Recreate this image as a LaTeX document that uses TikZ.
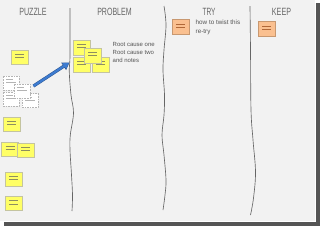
\documentclass[tikz,border=0pt]{standalone}
\usepackage{fontspec}
\setmainfont{Liberation Sans}
\usepackage{graphicx}
\usetikzlibrary{arrows.meta}
\definecolor{board}{HTML}{F2F2F2}
\definecolor{shadow}{HTML}{555555}
\definecolor{headc}{HTML}{666666}
\definecolor{textc}{HTML}{555555}
\definecolor{divc}{HTML}{666666}
\definecolor{yelfill}{HTML}{FFFF66}
\definecolor{yeldraw}{HTML}{C4C4A0}
\definecolor{yelline}{HTML}{8E8E60}
\definecolor{orafill}{HTML}{FAC090}
\definecolor{oradraw}{HTML}{C89870}
\definecolor{oraline}{HTML}{B06838}
\definecolor{wdraw}{HTML}{B4B4B4}
\definecolor{arrowc}{HTML}{3D7BD0}
\begin{document}
\begin{tikzpicture}[x=1pt,y=-1pt,
  heading/.style={text=headc,font=\fontsize{10.5}{12}\selectfont,inner sep=0pt},
  note/.style={minimum width=17pt,minimum height=14pt,inner sep=0pt,line width=0.8pt},
  yelnote/.style={note,draw=yeldraw,fill=yelfill,
    path picture={\draw[yelline,line width=0.6pt]
      ([xshift=4pt,yshift=-4pt]path picture bounding box.north west) -- ([xshift=-4pt,yshift=-4pt]path picture bounding box.north east)
      ([xshift=4pt,yshift=-7.5pt]path picture bounding box.north west) -- ([xshift=-4pt,yshift=-7.5pt]path picture bounding box.north east);}},
  oranote/.style={note,minimum height=15pt,draw=oradraw,fill=orafill,
    path picture={\draw[oraline,line width=0.6pt]
      ([xshift=4pt,yshift=-5pt]path picture bounding box.north west) -- ([xshift=-4pt,yshift=-5pt]path picture bounding box.north east)
      ([xshift=4pt,yshift=-8.5pt]path picture bounding box.north west) -- ([xshift=-4pt,yshift=-8.5pt]path picture bounding box.north east);}},
  whnote/.style={note,minimum width=16pt,draw=wdraw,dash pattern=on 1.6pt off 1pt,fill=white,
    path picture={\draw[wdraw,line width=0.6pt,solid]
      ([xshift=3pt,yshift=-3.5pt]path picture bounding box.north west) -- ([xshift=-6pt,yshift=-3.5pt]path picture bounding box.north east)
      ([xshift=3pt,yshift=-6.5pt]path picture bounding box.north west) -- ([xshift=-3pt,yshift=-6.5pt]path picture bounding box.north east);}},
  divider/.style={divc,line width=0.65pt},
  small/.style={text=textc,font=\fontsize{6}{8}\selectfont,align=left,inner sep=0pt}
]
\useasboundingbox (0,0) rectangle (320,226);
% background and board
\fill[white] (0,0) rectangle (320,226);
\fill[shadow] (316,3) rectangle (320,226);
\fill[shadow] (4,222) rectangle (320,226);
\fill[board] (0,0) rectangle (316,222);
\draw[white,line width=0.8pt] (315.4,0) -- (315.4,221.4) -- (0,221.4);
% headings
\node[heading] (hpuzzle) at (33,11.5) {\scalebox{0.68}[1]{PUZZLE}};
\node[heading] (hproblem) at (114.5,11.5) {\scalebox{0.67}[1]{PROBLEM}};
\node[heading] (htry) at (209,11.5) {\scalebox{0.62}[1]{TRY}};
\node[heading] (hkeep) at (281.5,11.5) {\scalebox{0.68}[1]{KEEP}};
% dividers
\draw[divider] plot[smooth,tension=0.6] coordinates {(70,8) (70,55) (69.3,72) (71,95) (73.5,113) (70.3,135) (70,150) (71.5,175) (72.5,195) (72,211)};
\draw[divider] plot[smooth,tension=0.6] coordinates {(164,6) (166,25) (164,50) (163,70) (164.5,95) (164,115) (162,135) (164,155) (166,180) (165,195) (163,210)};
\draw[divider] plot[smooth,tension=0.6] coordinates {(250,6) (250.5,50) (251,110) (253,140) (255.5,172) (253.5,198) (250.5,215)};
% puzzle column
\node[yelnote] (y1) at (19.5,57) {};
\node[whnote] (w1) at (11,83) {};
\node[whnote] (w3) at (11,99) {};
\node[whnote] (w4) at (30,100.5) {};
\node[whnote] (w2) at (22,91) {};
\node[yelnote] (y2) at (11.5,124) {};
\node[yelnote] (y3) at (10,149) {};
\node[yelnote] (y4) at (25.5,150) {};
\node[yelnote] (y5) at (13.5,179) {};
\node[yelnote] (y6) at (13.5,203.5) {};
% problem column
\node[yelnote,minimum height=15pt] (p1) at (81.5,47.5) {};
\node[yelnote,minimum height=15pt] (p3) at (81.5,64.5) {};
\node[yelnote,minimum height=15pt] (p4) at (100.5,64.5) {};
\node[yelnote,minimum height=15pt] (p2) at (92.5,55.5) {};
\node[small,anchor=north west] (ptext) at (112.5,42.5) {Root cause one\\Root cause two\\and notes};
% arrow
\coordinate (as) at (33.5,86);
\coordinate (ae) at (69.5,62.5);
\draw[arrowc!70!black,line width=3.2pt,-{Triangle[length=7pt,width=8.5pt]}] (as) -- (ae);
\draw[arrowc,line width=2.2pt,-{Triangle[length=5.6pt,width=6.6pt]}] (as) -- ([shift={(-0.6,0.4)}]ae);
% try column
\node[oranote] (t1) at (180.5,26.5) {};
\node[small,anchor=north west,font=\fontsize{6.3}{9.5}\selectfont] (ttext) at (195.5,19.5) {how to twist this\\re-try};
% keep column
\node[oranote] (k1) at (266.5,28.5) {};
\end{tikzpicture}
\end{document}
